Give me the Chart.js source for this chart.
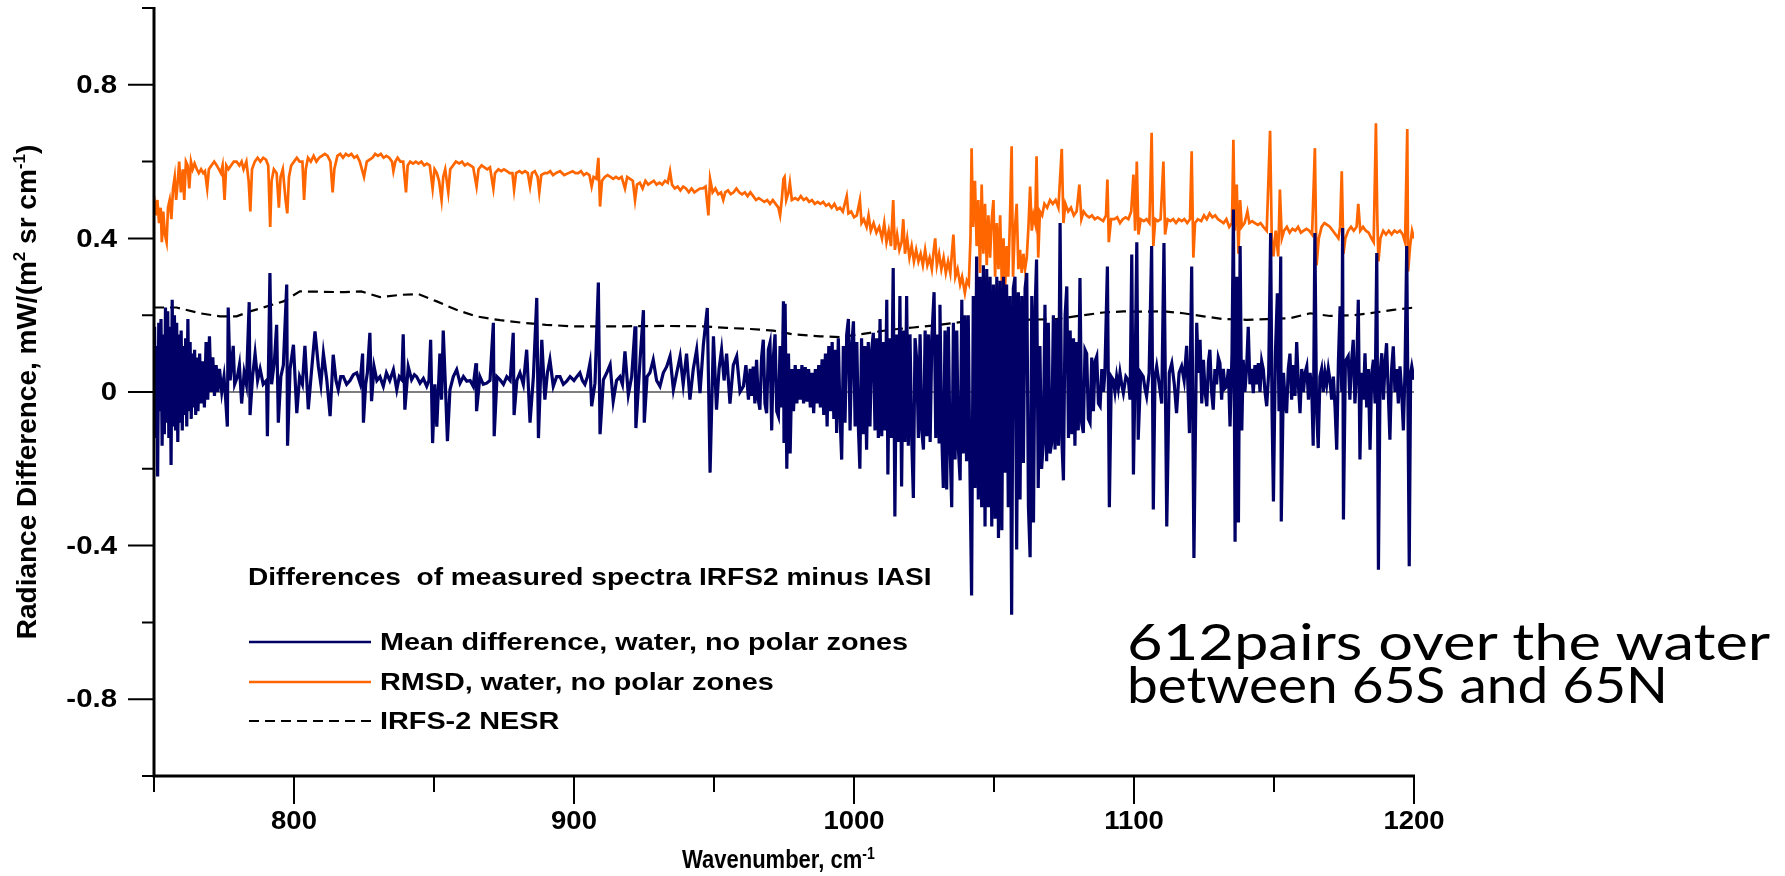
<!DOCTYPE html>
<html>
<head>
<meta charset="utf-8">
<script src="https://cdn.jsdelivr.net/npm/chart.js@4.4.1/dist/chart.umd.min.js"></script>
<style>
  html, body { margin: 0; padding: 0; background: #fff; }
  #wrap { position: relative; width: 1785px; height: 876px; overflow: hidden; }
  #note {
    position: absolute; left: 1127px; top: 620px;
    font-family: Lato, "Open Sans", sans-serif; font-size: 50px; line-height: 43px;
    color: #000; white-space: nowrap;
  }
  #note span { display: block; width: max-content; transform-origin: 0 50%; }
</style>
</head>
<body>
<div id="wrap">
  <canvas id="chart" width="1785" height="876"></canvas>
  <div id="note"><span data-w="643">612pairs over the water</span><span data-w="541">between 65S and 65N</span></div>
</div>
<script>
(function () {
  "use strict";

  // ─── Axes ──────────────────────────────────────────────────────────────────

  const xMin = 750, xMax = 1200;
  const yMin = -1, yMax = 1;
  const xMajorTicks = [800, 900, 1000, 1100, 1200];
  const xMinorTicks = [750, 850, 950, 1050, 1150];
  const xTickLabels = ["800", "900", "1000", "1100", "1200"];
  const yMajorTicks = [-0.8, -0.4, 0, 0.4, 0.8];
  const yMinorTicks = [-1, -0.6, -0.2, 0.2, 0.6, 1];
  const yTickLabels = ["-0.8", "-0.4", "0", "0.4", "0.8"];

  const legendTitle = "Differences  of measured spectra IRFS2 minus IASI";
  const seriesNames = [
    "Mean difference, water, no polar zones",
    "RMSD, water, no polar zones",
    "IRFS-2 NESR",
  ];

  // ─── Data: [wavenumber cm-1, radiance difference] ──────────────────────────

  const meanDiff = [
    [750.2,0.17],[750.6,-0.12],[751.0,0.12],[751.3,-0.22],[751.7,0.18],[752.1,-0.05],[752.5,0.19],[752.9,-0.14],
    [753.3,0.15],[753.7,-0.11],[754.1,0.22],[754.5,-0.08],[754.9,0.21],[755.3,-0.12],[755.7,0.17],[756.1,-0.19],
    [756.5,0.24],[756.9,-0.09],[757.3,0.2],[757.7,-0.1],[758.1,0.18],[758.5,-0.13],[758.9,0.15],[759.3,-0.08],
    [759.7,0.16],[760.1,-0.1],[760.5,0.12],[760.9,-0.06],[761.3,0.14],[761.7,-0.09],[762.1,0.19],[762.5,-0.05],
    [762.9,0.13],[763.3,-0.07],[763.7,0.1],[764.1,-0.04],[764.5,0.11],[764.9,-0.06],[765.3,0.09],[765.7,-0.05],
    [766.3,0.1],[766.8,-0.03],[767.4,0.08],[768,-0.04],[768.6,0.13],[769.2,-0.02],[769.8,0.145],[770.4,0.0],
    [771,0.09],[771.6,-0.01],[772.2,0.07],[772.8,0.0],[773.4,0.06],
    [774.2,0.0],[775,0.04],[775.6,-0.02],[776.2,-0.09],[776.5,0.22],[777.2,0.03],[778.3,0.12],[778.8,0.02],
    [779.8,0.04],[780.5,0.07],[781.3,-0.03],[782.2,0.05],[783,0.02],[784,0.234],[784.3,-0.06],[785.2,0.04],
    [786.1,0.1],[787,0.03],[787.9,0.06],[789,0.02],[790.2,0.03],[790.5,-0.115],[791.4,0.31],[792,0.02],
    [793,0.08],[793.8,0.175],[794.4,-0.08],[795.3,0.04],[796.2,0.07],[797.4,0.28],[797.7,-0.14],[798.6,0.06],
    [799.8,0.123],[801,-0.055],[802,0.04],[803,0.02],[803.9,0.12],[805.1,-0.045],[806.2,0.05],[807.5,0.158],
    [808.7,0.067],[809.6,0.02],[810.5,0.1],[811.7,0.032],[812.9,-0.063],[814,0.097],[815,0.03],[815.8,0.006],
    [816.7,0.04],[817.6,0.04],[818.8,0.02],[820,0.03],[821.2,0.045],[822.4,0.05],[823.6,0.023],[824.5,0.1],
    [824.8,-0.08],[825.6,0.02],[826.2,0.05],[827.1,0.154],[827.7,-0.024],[828.6,0.066],[829.6,0.03],[830.7,0.04],
    [831.9,0.015],[833,0.05],[834.2,0.03],[835.5,0.058],[836.7,0.006],[837.6,0.04],[838.5,0.032],[839,0.15],
    [839.6,-0.046],[840.8,0.066],[842,0.032],[843,0.045],[843.8,0.04],[845,0.023],[846.2,0.035],[847.4,0.015],
    [848.2,0.03],[848.8,0.136],[849.5,-0.133],[850.3,0.02],[851,-0.09],[852.1,0.1],[852.7,-0.02],[853.3,0.16],
    [854,0.03],[854.8,-0.128],[855.7,0.006],[856.9,0.04],[858.1,0.058],[859.3,0.023],[860.5,0.04],[861.7,0.028],
    [862.9,0.03],[864,0.015],[865,0.075],[865.2,-0.05],[866.4,0.04],[867.6,0.02],[868.8,0.023],[870,0.03],
    [871.2,0.18],[871.5,-0.115],[872.5,0.04],[873.6,0.032],[874.8,0.02],[876,0.04],[877.2,0.03],[878.3,0.154],
    [878.6,-0.06],[879.6,0.03],[880.7,0.05],[881.9,0.02],[883.1,0.11],[884.3,-0.08],[885.5,0.04],[886.7,0.245],
    [887.3,-0.12],[888.5,0.136],[889.6,-0.02],[890.5,0.05],[891.4,0.084],[892.6,0.015],[893.8,0.04],[895,0.04],
    [896.2,0.02],[897.4,0.028],[898.6,0.04],[900,0.03],[901,0.04],
    [902.1,0.05],[903,0.03],[903.9,0.02],[904.8,0.04],[905.7,0.075],[906.3,-0.037],[907.5,0.023],[908.7,0.285],
    [909.3,-0.11],[910.5,0.032],[911.7,0.05],[912.9,0.071],[914,-0.024],[915.2,0.03],[916.4,0.04],[917.3,0.02],
    [918.2,0.106],[919.4,-0.007],[920.6,0.04],[921.8,0.171],[922.1,-0.094],[923.6,0.084],[924.8,0.213],[925.1,-0.08],
    [926.1,0.04],[927.1,0.05],[928.3,0.084],[929.5,0.03],[930.7,0.015],[931.9,0.05],[933.1,0.066],[934.3,0.093],
    [935.5,0.006],[936.7,0.05],[937.9,0.093],[939,0.02],[940.2,0.1],[941.4,-0.02],[942.6,0.06],[943.8,0.11],
    [945,-0.003],[946.2,0.123],[947.6,0.219],[948.6,-0.21],[949.8,0.145],[950.9,-0.046],[951.8,0.06],[952.7,0.11],
    [953.6,0.03],[954.5,0.1],[955.7,-0.03],[956.9,0.07],[958.1,0.093],[959.3,0.0],[960.5,0.015],[961.4,0.07],
    [962.3,-0.02],[962.9,0.06],
    [963.5,-0.01],[964,0.066],[964.6,-0.03],[965.2,0.084],[965.8,-0.02],[966.4,-0.046],[967,0.09],[967.6,0.136],
    [968.2,-0.03],[968.8,-0.055],[969.4,0.11],[970,0.128],[970.6,-0.1],[971.2,0.09],[971.8,0.15],[972.4,-0.05],
    [973,-0.063],[973.6,0.12],[974.2,-0.04],[974.8,0.236],[975,-0.133],[975.4,0.23],[976,-0.2],[976.6,0.1],
    [977.2,-0.16],[977.8,0.06],[978.4,-0.05],[979,0.07],[979.6,-0.03],[980.2,0.06],[980.8,-0.02],[981.4,0.07],
    [982,-0.03],[982.6,0.065],[983.2,-0.025],[983.8,0.06],[984.4,-0.04],[985,0.05],[985.6,-0.055],[986.2,0.06],
    [986.8,-0.03],[987.4,0.07],[988,-0.04],[988.6,0.085],[989.2,-0.06],[989.8,0.1],[990.4,-0.09],[991,0.12],
    [991.6,-0.05],[992.2,0.13],[992.8,-0.07],[993.4,0.11],[993.8,-0.107],[994.4,0.14],[995,-0.06],[995.6,-0.176],
    [996.2,0.12],[996.8,-0.08],[997.4,0.15],[998,0.19],[998.6,-0.1],[999.2,0.12],[999.8,0.184],[1000.4,-0.09],
    [1001,0.13],[1001.6,-0.1],[1002.1,-0.2],[1002.7,0.14],[1003.3,-0.11],[1003.9,0.12],[1004.5,-0.15],[1005.1,0.13],
    [1005.7,-0.09],[1006.3,0.11],[1006.9,0.154],[1007.5,-0.1],[1008.1,0.14],[1008.7,-0.12],[1009.3,0.19],[1009.9,-0.115],
    [1010.5,0.13],[1011.1,-0.1],[1011.7,0.24],[1012.1,-0.215],[1012.7,0.14],[1013.3,-0.12],[1014,0.323],[1014.6,-0.324],
    [1015.2,0.15],[1015.8,-0.13],[1016.4,0.25],[1017,-0.246],[1017.6,0.16],[1018.2,-0.13],[1018.8,0.25],[1019.4,-0.14],
    [1020,0.15],[1020.6,-0.12],[1021.2,-0.276],[1021.8,0.14],[1022.4,0.084],[1023,-0.12],[1023.6,0.15],[1024.2,-0.1],
    [1024.8,-0.15],[1025.4,0.16],[1026,-0.115],[1026.6,0.15],[1027.2,-0.13],[1027.8,0.14],[1028.6,0.26],[1029.2,-0.12],
    [1029.8,0.15],[1030.4,-0.13],[1030.7,0.227],[1031.3,-0.1],[1031.9,-0.25],[1032.5,0.16],[1033.1,-0.254],[1033.7,0.17],
    [1034.3,-0.14],[1034.9,-0.3],[1035.5,0.18],[1036.1,-0.176],[1036.7,0.16],[1037.3,-0.15],[1037.9,-0.23],[1038.5,0.24],
    [1039,-0.16],[1039.6,0.2],[1040.2,-0.18],[1040.8,0.2],[1041.4,-0.2],[1042,-0.53],[1042.6,0.25],[1043.2,-0.25],
    [1043.8,0.353],[1044.4,-0.28],[1045,0.3],[1045.6,-0.3],[1046.2,0.33],[1046.8,-0.35],[1047.4,0.32],[1048,-0.3],
    [1048.6,0.3],[1049.2,-0.35],[1049.8,0.28],[1050.4,-0.33],[1051,0.3],[1051.6,-0.38],[1052.2,0.29],[1052.8,-0.36],
    [1053.4,0.3],[1053.9,-0.21],[1054.5,0.28],[1055.1,-0.3],[1055.7,0.25],[1056.3,-0.58],[1056.9,0.27],[1057.5,0.3],
    [1058.1,-0.41],[1058.7,0.26],[1059.3,-0.28],[1059.9,0.25],[1060.5,-0.185],[1061.1,0.27],[1061.7,0.31],[1062.3,-0.3],
    [1062.9,-0.43],[1063.5,0.25],[1064.1,-0.34],[1064.7,0.22],[1065.2,0.345],[1065.8,-0.25],[1066.4,0.12],[1067,-0.2],
    [1067.6,-0.133],[1068.2,0.227],[1068.8,-0.18],[1069.4,0.18],[1070,-0.16],[1070.6,-0.133],[1071.2,0.2],[1071.8,-0.15],
    [1072.4,0.19],[1073,-0.14],[1073.6,0.44],[1074.2,-0.12],[1074.8,-0.23],[1075.4,0.2],[1076,0.275],[1076.6,-0.12],
    [1077.2,0.16],[1077.8,-0.11],[1078.4,0.14],[1078.9,-0.14],[1079.5,0.13],[1080.1,-0.1],[1080.7,0.297],[1081.3,-0.08],
    [1081.9,-0.107],[1082.5,0.11],[1083.1,0.1],[1083.7,-0.07],[1084.3,-0.08],[1084.9,0.09],[1085.5,-0.05],[1086.1,0.08],
    [1086.7,0.093],[1087.3,-0.03],[1087.9,-0.037],[1088.5,0.06],[1089.1,0.0],[1089.6,0.05],[1090.5,0.327],[1091.2,-0.3],
    [1091.9,0.04],[1092.6,0.032],[1093.2,0.0],[1093.8,0.04],[1094.4,0.01],[1095,0.05],[1095.6,0.02],[1096.2,-0.003],
    [1097.1,0.04],[1098,0.03],[1098.6,-0.02],[1099.2,0.358],[1099.8,-0.215],[1100.4,0.05],[1101,0.39],[1101.5,-0.124],
    [1102.4,0.05],[1103.3,0.04],[1103.9,0.01],[1104.5,-0.011],[1105.4,0.05],[1106.3,0.38],[1106.9,-0.306],[1107.5,0.04],
    [1108.1,0.067],[1109,0.02],[1109.9,-0.03],[1110.7,0.388],[1111.7,-0.35],[1112.6,0.05],[1113.5,0.075],[1114.4,0.02],
    [1115.2,-0.055],[1116.1,0.05],[1117,0.067],[1117.9,0.03],[1118.8,0.12],[1119.8,-0.107],[1120.6,0.327],[1121.4,-0.432],
    [1122.4,0.18],[1123,0.05],[1123.6,0.136],[1124.2,-0.03],[1124.8,0.084],
    [1125.4,0.0],[1126,-0.037],[1126.6,0.08],[1127.1,0.11],[1127.7,0.0],[1128.3,-0.046],[1128.9,0.06],[1129.5,0.02],
    [1130.1,0.09],[1130.7,0.075],[1131.3,-0.02],[1131.9,0.06],[1132.5,0.01],[1133.1,0.015],[1133.7,0.06],[1134.3,-0.09],
    [1135,0.1],[1135.5,0.475],[1136.1,-0.39],[1136.7,0.3],[1137.3,-0.34],[1137.9,0.38],[1138.5,-0.1],[1139,0.084],
    [1139.6,0.0],[1140.2,0.06],[1140.8,0.17],[1141.4,0.02],[1142,0.06],[1142.6,-0.003],[1143.2,0.07],[1143.8,0.02],
    [1144.4,0.075],[1145,0.0],[1145.6,0.08],[1146.2,0.058],[1146.8,0.0],[1147.4,-0.037],[1148.1,0.05],[1148.8,0.414],
    [1149.3,-0.05],[1149.8,-0.285],[1150.5,0.1],[1151.2,0.257],[1151.8,-0.05],[1152.4,0.353],[1152.6,-0.337],[1153.4,0.05],
    [1154,-0.03],[1154.5,-0.055],[1155.1,0.06],[1155.7,0.1],[1156.3,-0.02],[1156.9,0.07],[1157.5,-0.01],[1158.1,0.13],
    [1158.7,0.02],[1159.3,-0.055],[1159.9,0.06],[1160.5,0.0],[1161.1,0.05],[1161.7,0.067],[1162.3,-0.02],[1162.9,0.05],
    [1163.5,0.0],[1164,-0.14],[1164.6,0.414],[1165.2,-0.05],[1165.8,-0.146],[1166.4,0.04],[1167,0.06],[1167.6,0.0],
    [1168.2,0.05],[1168.8,0.02],[1169.4,0.06],[1170,0.03],[1170.6,-0.02],[1171.2,0.04],[1171.8,-0.04],[1172.4,-0.15],
    [1173,0.08],[1173.6,0.223],[1174.2,0.0],[1174.5,0.427],[1174.8,-0.332],[1175.5,0.08],[1176.5,0.093],[1177.1,-0.02],
    [1177.7,0.08],[1178.3,0.136],[1178.9,-0.03],[1179.5,0.05],[1180.1,0.24],[1180.7,-0.176],[1181.3,0.05],[1181.9,-0.02],
    [1182.5,0.101],[1183.1,-0.04],[1183.7,0.06],[1184.3,-0.15],[1184.9,0.05],[1185.5,0.084],[1186.1,-0.03],[1186.7,0.362],
    [1187.3,-0.463],[1187.9,0.05],[1188.5,0.101],[1189.1,-0.02],[1189.7,0.08],[1190.2,0.127],[1190.8,0.0],[1191.4,-0.124],
    [1192,0.06],[1192.6,0.119],[1193.2,0.0],[1193.8,0.06],[1194.4,-0.03],[1195,0.067],[1195.6,0.0],[1196.2,-0.1],
    [1196.8,0.06],[1197.4,0.38],[1198.3,-0.454],[1198.8,0.05],[1199.2,0.067],[1200,0.032]
  ];

  const rmsd = [
    [750,0.51],[750.6,0.46],[751.2,0.5],[751.8,0.44],[752.4,0.48],[752.8,0.39],[753.3,0.47],[753.9,0.41],
    [754.5,0.39],[755,0.48],[755.6,0.5],[756.2,0.45],[756.8,0.53],[757.4,0.56],[757.9,0.5],[758.5,0.55],
    [759,0.6],[759.6,0.52],[760.3,0.58],[760.8,0.5],[761.4,0.6],[762,0.59],[762.6,0.53],[763.2,0.6],
    [763.8,0.58],[764.5,0.595],[765.3,0.58],[766,0.57],[766.8,0.58],[767.6,0.57],[768.2,0.575],[769,0.53],
    [769.6,0.58],[770.5,0.59],[771.5,0.6],[772.4,0.59],[773.2,0.58],[773.9,0.57],[774.5,0.59],[775.2,0.5],
    [775.8,0.59],[776.6,0.58],[777.5,0.59],[778.5,0.6],[779.5,0.6],[780.5,0.59],[781.3,0.6],[782,0.58],
    [783,0.6],[783.8,0.55],[784.4,0.47],[785,0.58],[786,0.6],[787,0.61],[788,0.6],[789,0.61],
    [790,0.605],[790.8,0.59],[791.5,0.43],[792,0.55],[792.8,0.58],[793.8,0.57],[794.6,0.48],[795.2,0.56],
    [796,0.58],[797,0.5],[797.6,0.465],[798.2,0.56],[799,0.59],[800,0.6],[801,0.61],[802,0.6],
    [803,0.6],[803.6,0.5],[804.2,0.58],[805,0.61],[806,0.6],[807,0.615],[808,0.6],[809,0.61],
    [810,0.615],[811,0.62],[812,0.615],[813,0.6],[813.8,0.52],[814.4,0.58],[815.5,0.615],[816.5,0.62],
    [817.5,0.61],[818.5,0.62],[819.5,0.615],[820.5,0.62],[821.5,0.61],[822.5,0.615],[823.5,0.6],
    [825,0.56],[826,0.6],[827,0.605],[828,0.61],[829,0.62],[830,0.615],[831,0.62],[832,0.61],
    [833,0.615],[834,0.61],[835,0.6],[835.5,0.575],[836.2,0.6],[837,0.61],[838,0.6],[839,0.6],
    [840,0.52],[840.6,0.59],[841.5,0.6],[842.5,0.595],[843.5,0.6],[844.5,0.595],[845.5,0.6],[846.5,0.59],
    [847.5,0.595],[848.5,0.59],[849.5,0.53],[850.2,0.58],[851,0.57],[851.8,0.55],[852.7,0.5],[853.3,0.56],
    [854,0.58],[855.1,0.52],[855.8,0.58],[856.8,0.59],[857.8,0.6],[859,0.595],[860,0.6],[861,0.59],
    [862,0.595],[863,0.59],[864,0.585],[865.2,0.535],[865.9,0.58],[867,0.59],[868,0.585],[869,0.58],
    [870,0.585],[871.2,0.53],[871.8,0.57],[873,0.58],[874,0.575],[875,0.58],[876,0.575],[877,0.57],
    [878,0.57],[878.6,0.527],[879.3,0.57],[880.5,0.575],[881.5,0.57],[882.5,0.575],[883.5,0.57],[884.3,0.535],
    [885,0.57],[886,0.575],[887,0.56],[887.6,0.52],[888.3,0.565],[889.5,0.57],[890.5,0.57],[891.5,0.575],
    [892.5,0.565],[893.5,0.57],[895,0.575],[896.5,0.565],[898,0.57],[899.5,0.575],[900.5,0.57],
    [901.5,0.57],[902.5,0.575],[903.5,0.565],[904.5,0.57],[905.5,0.565],[906.3,0.535],[907,0.56],[908,0.555],
    [908.7,0.61],[909.3,0.483],[910,0.55],[911,0.56],[912,0.565],[913,0.56],[914,0.555],[915,0.56],
    [916,0.555],[917,0.56],[918.2,0.53],[919,0.56],[920,0.555],[921,0.55],[921.8,0.5],[922.5,0.54],
    [923.5,0.545],[924.5,0.53],[925.5,0.55],[926.5,0.54],[927.5,0.545],[928.5,0.55],[929.5,0.54],[930.5,0.545],
    [931.5,0.54],[932.5,0.55],[933.5,0.545],[934.3,0.575],[935,0.54],[936,0.53],[937,0.535],[938,0.525],
    [939,0.535],[940,0.53],[941,0.52],[942,0.53],[943,0.52],[944,0.525],[945,0.53],[946,0.53],
    [947,0.535],[948,0.46],[948.6,0.555],[949.5,0.52],[950.5,0.53],[951.5,0.515],[952.5,0.52],[953.3,0.5],
    [954,0.52],[955,0.525],[956,0.515],[957,0.52],[958,0.53],[959,0.52],[960,0.515],[961,0.52],
    [962,0.51],[963,0.52],[964,0.51],[965,0.5],[966,0.505],[967,0.5],[968,0.495],[969,0.5],
    [970,0.49],[971,0.5],[972,0.49],[973,0.48],[973.6,0.46],[974.2,0.5],[974.8,0.555],
    [975.2,0.56],[975.8,0.5],[976.6,0.52],[977.1,0.545],[977.8,0.5],[979,0.505],[980,0.5],[981,0.51],
    [982,0.5],[983,0.505],[984,0.495],[985,0.5],[986,0.49],[987,0.495],[988,0.49],[989,0.495],
    [990,0.485],[991,0.49],[992,0.48],[993,0.49],[994,0.475],[995,0.48],[996,0.47],[997.4,0.51],
    [998,0.465],[999,0.47],[1000,0.455],[1001,0.46],[1002.1,0.5],[1002.7,0.44],[1003.5,0.45],[1004.5,0.43],
    [1005.2,0.46],[1006,0.42],[1007,0.44],[1008,0.415],[1009,0.43],[1010,0.4],[1010.8,0.44],[1011.6,0.39],
    [1012.4,0.42],[1013.2,0.38],[1014,0.5],[1014.6,0.37],[1015.4,0.41],[1016.2,0.37],[1017,0.39],[1017.6,0.45],
    [1018.2,0.36],[1019,0.4],[1019.8,0.35],[1020.6,0.38],[1021.4,0.34],[1022.2,0.37],[1023,0.34],[1023.8,0.36],
    [1024.6,0.33],[1025.4,0.37],[1026.2,0.33],[1027,0.35],[1027.8,0.32],[1028.5,0.37],[1029,0.4],[1029.6,0.33],
    [1030.4,0.36],[1031.2,0.32],[1032,0.35],[1032.8,0.31],[1033.6,0.34],[1034.4,0.31],[1035.5,0.41],[1036.2,0.3],
    [1037,0.32],[1037.9,0.28],[1038.6,0.3],[1039.6,0.258],[1040.3,0.29],[1041,0.28],[1041.6,0.4],[1042,0.635],
    [1042.5,0.43],[1043.2,0.55],[1043.8,0.38],[1044.4,0.5],[1045,0.31],[1045.6,0.54],[1046.2,0.36],[1046.8,0.49],
    [1047.4,0.33],[1048,0.46],
    [1048.6,0.35],[1049.2,0.45],[1049.8,0.5],[1050.4,0.3],[1051,0.44],[1051.6,0.32],[1052.2,0.46],[1052.8,0.28],
    [1053.4,0.4],[1053.9,0.258],[1054.5,0.38],[1055.1,0.3],[1055.7,0.45],[1056.3,0.64],[1056.8,0.3],[1057.4,0.42],
    [1058.1,0.49],[1058.7,0.32],[1059.3,0.37],[1059.9,0.31],[1060.5,0.36],[1061.1,0.32],[1061.7,0.35],[1062.3,0.43],
    [1062.9,0.535],[1063.5,0.42],[1064.1,0.46],[1064.7,0.44],[1065.2,0.614],[1065.8,0.35],[1066.4,0.47],[1067.2,0.46],
    [1068,0.49],[1069,0.48],[1070,0.5],[1071,0.49],[1072,0.5],[1073,0.48],[1074.2,0.633],[1074.8,0.44],
    [1075.5,0.49],[1076.5,0.47],[1077.5,0.48],[1078.5,0.46],[1079.5,0.47],[1080.5,0.54],[1081.2,0.45],[1082,0.47],
    [1083,0.46],[1084,0.455],[1085,0.46],[1086,0.45],[1087,0.455],[1088,0.45],[1089,0.445],[1090,0.46],
    [1090.5,0.553],[1091,0.39],[1091.8,0.45],[1093,0.45],[1094,0.455],[1095,0.44],[1096,0.45],[1097,0.455],
    [1098,0.45],[1099,0.47],[1099.8,0.566],[1100.4,0.42],[1101,0.6],[1101.6,0.41],[1102.4,0.45],[1103.5,0.445],
    [1104.5,0.45],[1105.5,0.44],[1106.3,0.675],[1106.9,0.38],[1107.6,0.45],[1108.5,0.445],[1109.5,0.45],[1110.5,0.6],
    [1111.1,0.41],[1112,0.45],[1113,0.445],[1114,0.45],[1115,0.44],[1116,0.45],[1117,0.445],[1118,0.45],
    [1119,0.44],[1120,0.45],[1120.6,0.627],[1121.2,0.35],[1121.8,0.44],[1122.8,0.45],[1124,0.445],
    [1125,0.46],[1126,0.45],[1127,0.465],[1128,0.455],[1129,0.46],[1130,0.45],[1131,0.445],[1132,0.44],
    [1133,0.45],[1134,0.43],[1135,0.44],[1135.5,0.657],[1136,0.42],[1136.7,0.54],[1137.3,0.36],[1137.9,0.5],
    [1138.5,0.43],[1139.5,0.44],[1140.5,0.47],[1141.2,0.44],[1142.2,0.445],[1143.2,0.44],[1144.2,0.435],[1145.2,0.44],
    [1146.2,0.43],[1147.4,0.42],[1148.6,0.68],[1149.2,0.4],[1149.8,0.353],[1150.6,0.42],[1151.5,0.353],[1152.1,0.527],
    [1152.8,0.4],[1153.6,0.42],[1154.6,0.43],[1155.6,0.415],[1156.6,0.425],[1157.6,0.42],[1158.6,0.43],[1159.6,0.415],
    [1160.6,0.42],[1161.6,0.425],[1162.6,0.42],[1163.6,0.41],[1164.6,0.635],[1165.2,0.33],[1166,0.4],[1167,0.43],
    [1168,0.44],[1169,0.435],[1170,0.43],[1171,0.42],[1172,0.41],[1173,0.4],[1173.6,0.43],[1174.2,0.575],
    [1174.8,0.36],[1175.5,0.4],[1176.5,0.42],[1177.5,0.43],[1178.5,0.42],[1179.5,0.43],[1180.1,0.49],[1180.8,0.42],
    [1181.8,0.43],[1182.8,0.42],[1183.8,0.415],[1184.8,0.4],[1185.6,0.39],[1186.4,0.7],[1186.9,0.45],[1187.3,0.34],
    [1188,0.4],[1189,0.42],[1190,0.41],[1191,0.42],[1192,0.41],[1193,0.42],[1194,0.415],[1195,0.42],
    [1196,0.41],[1196.8,0.39],[1197.6,0.685],[1197.9,0.314],[1198.6,0.38],[1199.3,0.42],[1200,0.4]
  ];

  const nesr = [
    [750,0.22],[758,0.22],[766.4,0.205],[773.6,0.197],[779.5,0.197],[784.3,0.21],[789,0.22],[796.2,0.236],
    [802.1,0.262],[810,0.261],[818,0.26],[824,0.262],[830.7,0.247],[838,0.253],[844.4,0.255],[851,0.236],
    [858,0.214],[865,0.197],[873.6,0.187],[882,0.18],[890,0.175],[899.8,0.171],[915,0.171],[932,0.172],
    [946,0.171],[954.5,0.167],[963,0.164],[971.2,0.16],[978.3,0.15],[987.9,0.145],[995,0.143],[1005.7,0.154],
    [1012.9,0.162],[1021.2,0.168],[1030.7,0.175],[1040.2,0.184],[1048.6,0.184],[1060.5,0.188],[1072.4,0.19],[1081.9,0.2],
    [1089,0.207],[1096.2,0.21],[1103.3,0.209],[1110.5,0.21],[1117.6,0.205],[1124.8,0.197],[1131.9,0.19],[1140.2,0.188],
    [1147.4,0.19],[1155.7,0.192],[1162.9,0.205],[1170,0.198],[1178.3,0.2],[1184.3,0.205],[1192.6,0.214],[1200,0.22]
  ];

  const zeroLine = [[750, 0], [1200, 0]];

  // ─── Colours ───────────────────────────────────────────────────────────────

  const NAVY = "#000066";
  const ORANGE = "#ff6600";
  const BLACK = "#000000";
  const DASH = [10, 6];

  const toXY = (arr) => arr.map((p) => ({ x: p[0], y: p[1] }));

  // ─── Text helpers ──────────────────────────────────────────────────────────

  const font = (size) => "bold " + size + "px 'Liberation Sans', Arial, sans-serif";

  // text stretched horizontally, like the original slide
  function stretchText(ctx, text, x, y, sx, align) {
    ctx.save();
    ctx.translate(x, y);
    ctx.scale(sx, 1);
    ctx.textAlign = align || "left";
    ctx.fillText(text, 0, 0);
    ctx.restore();
  }

  // runs: [{ t, sup }]; drawn left to right from (0,0) in current transform
  function runsWidth(ctx, runs, size) {
    let w = 0;
    runs.forEach((r) => {
      ctx.font = font(r.sup ? Math.round(size * 0.62) : size);
      w += ctx.measureText(r.t).width;
    });
    return w;
  }

  function drawRuns(ctx, runs, size) {
    let cx = 0;
    runs.forEach((r) => {
      const s = r.sup ? Math.round(size * 0.62) : size;
      ctx.font = font(s);
      ctx.fillText(r.t, cx, r.sup ? -size * 0.38 : 0);
      cx += ctx.measureText(r.t).width;
    });
  }

  // ─── Axes, labels and legend drawn on top of datasets ─────────────────────

  const decorPlugin = {
    id: "decor",
    afterDatasetsDraw(chart) {
      const { ctx } = chart;
      const xs = chart.scales.x, ys = chart.scales.y;
      const left = xs.getPixelForValue(xMin), right = xs.getPixelForValue(xMax);
      const top = ys.getPixelForValue(yMax), bottom = ys.getPixelForValue(yMin);

      ctx.save();
      ctx.fillStyle = BLACK;
      ctx.strokeStyle = BLACK;

      // ticks
      ctx.lineWidth = 2;
      ctx.beginPath();
      yMajorTicks.forEach((v) => { const p = ys.getPixelForValue(v); ctx.moveTo(left - 26, p); ctx.lineTo(left, p); });
      yMinorTicks.forEach((v) => { const p = ys.getPixelForValue(v); ctx.moveTo(left - 12, p); ctx.lineTo(left, p); });
      xMajorTicks.forEach((v) => { const p = xs.getPixelForValue(v); ctx.moveTo(p, bottom); ctx.lineTo(p, bottom + 28); });
      xMinorTicks.forEach((v) => { const p = xs.getPixelForValue(v); ctx.moveTo(p, bottom); ctx.lineTo(p, bottom + 16); });
      ctx.stroke();

      // axis lines
      ctx.lineWidth = 3;
      ctx.beginPath();
      ctx.moveTo(left, top - 1);
      ctx.lineTo(left, bottom);
      ctx.lineTo(right + 1, bottom);
      ctx.stroke();

      // tick labels
      ctx.textBaseline = "middle";
      ctx.font = font(26);
      yMajorTicks.forEach((v, i) => {
        stretchText(ctx, yTickLabels[i], left - 37, ys.getPixelForValue(v) + 1, 1.13, "right");
      });
      ctx.font = font(25);
      xMajorTicks.forEach((v, i) => {
        stretchText(ctx, xTickLabels[i], xs.getPixelForValue(v), bottom + 46, 1.1, "center");
      });

      // x title (slightly condensed)
      ctx.textBaseline = "alphabetic";
      const xRuns = [{ t: "Wavenumber, cm" }, { t: "-1", sup: true }];
      const xSx = 0.88;
      const xw = runsWidth(ctx, xRuns, 25) * xSx;
      ctx.save();
      ctx.translate(xs.getPixelForValue(973) - xw / 2, bottom + 92);
      ctx.scale(xSx, 1);
      drawRuns(ctx, xRuns, 25);
      ctx.restore();

      // y title (rotated)
      const yRuns = [
        { t: "Radiance Difference, mW/(m" }, { t: "2", sup: true },
        { t: " sr cm" }, { t: "-1", sup: true }, { t: ")" },
      ];
      const yw = runsWidth(ctx, yRuns, 28);
      ctx.save();
      ctx.translate(36, ys.getPixelForValue(0) + yw / 2);
      ctx.rotate(-Math.PI / 2);
      drawRuns(ctx, yRuns, 28);
      ctx.restore();

      // legend
      ctx.font = font(24);
      ctx.textBaseline = "middle";
      stretchText(ctx, legendTitle, 248, 578, 1.17);
      const rows = [
        { y: 642, color: NAVY, width: 2.6, dash: [] },
        { y: 682, color: ORANGE, width: 2.6, dash: [] },
        { y: 721, color: BLACK, width: 2.2, dash: DASH },
      ];
      rows.forEach((r, i) => {
        ctx.save();
        ctx.strokeStyle = r.color;
        ctx.lineWidth = r.width;
        ctx.setLineDash(r.dash);
        ctx.beginPath();
        ctx.moveTo(249, r.y);
        ctx.lineTo(371, r.y);
        ctx.stroke();
        ctx.restore();
        ctx.fillStyle = BLACK;
        stretchText(ctx, seriesNames[i], 380, r.y + 1, 1.2);
      });

      ctx.restore();
    },
  };

  // ─── Chart ─────────────────────────────────────────────────────────────────

  const canvas = document.getElementById("chart");

  new Chart(canvas, {
    type: "line",
    data: {
      datasets: [
        {
          label: seriesNames[0],
          data: toXY(meanDiff),
          borderColor: NAVY,
          borderWidth: 3.2,
        },
        {
          label: seriesNames[2],
          data: toXY(nesr),
          borderColor: BLACK,
          borderWidth: 2.2,
          borderDash: DASH,
        },
        {
          label: seriesNames[1],
          data: toXY(rmsd),
          borderColor: ORANGE,
          borderWidth: 2.7,
        },
        {
          label: "zero",
          data: toXY(zeroLine),
          borderColor: BLACK,
          borderWidth: 1.2,
        },
      ],
    },
    options: {
      responsive: false,
      devicePixelRatio: 1,
      animation: false,
      events: [],
      elements: {
        point: { radius: 0 },
        line: { tension: 0, fill: false, borderJoinStyle: "miter", borderCapStyle: "butt" },
      },
      layout: { padding: { left: 154, top: 8, right: 371, bottom: 100 } },
      plugins: {
        legend: { display: false },
        tooltip: { enabled: false },
        title: { display: false },
      },
      scales: {
        x: { type: "linear", min: xMin, max: xMax, display: false },
        y: { type: "linear", min: yMin, max: yMax, display: false },
      },
    },
    plugins: [decorPlugin],
  });

  // ─── Side note: stretch each line to the width it has in the slide ────────

  document.querySelectorAll("#note span").forEach((s) => {
    const target = +s.dataset.w;
    const w = s.getBoundingClientRect().width;
    if (w > 0) s.style.transform = "scaleX(" + (target / w).toFixed(3) + ")";
  });
})();
</script>
</body>
</html>
